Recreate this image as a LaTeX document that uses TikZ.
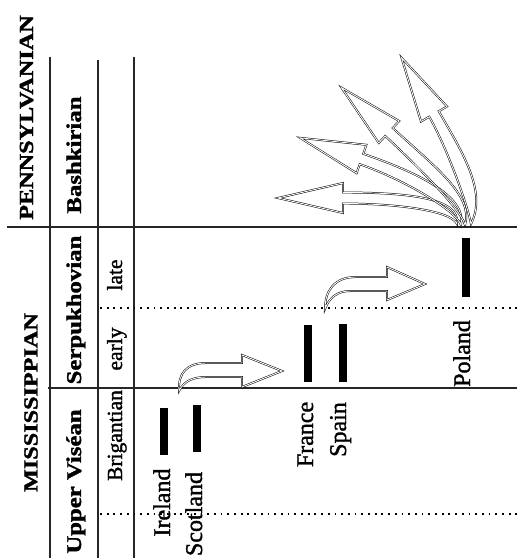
\documentclass[tikz,border=0pt]{standalone}
\usepackage{fontspec}
\setmainfont{Liberation Serif}[FakeBold=1.5]
\usepackage{graphicx}
\usetikzlibrary{calc}
% #1 name, #2 base x, #3 base y, #4 angle, #5 tail x, #6 tail y,
% #7 outer base ctrl, #8 outer tail ctrl offset, #9 inner tail ctrl offset
\newcommand\fanarr[9]{%
  \coordinate (#1b) at (#2,#3);
  \coordinate (#1t) at (#5,#6);
  \draw[hollow] (#1t) .. controls ($(#1t)+(#8)$) and ($(#1b)+({#4+90}:5.5)+({#4+180}:#7)$) ..
    ($(#1b)+({#4+90}:5.5)$) -- ($(#1b)+({#4+90}:15)$) -- ($(#1b)+(#4:65)$) --
    ($(#1b)+({#4-90}:15)$) -- ($(#1b)+({#4-90}:5.5)$) ..
    controls ($(#1b)+({#4-90}:5.5)+({#4+180}:#7-15)$) and ($(#1t)+(#9)$) .. (#1t) -- cycle;
}
\begin{document}
\begin{tikzpicture}[x=1pt,y=-1pt,
  rule/.style={line width=1.4pt, draw=black!85},
  dotline/.style={line width=1.8pt, dash pattern=on 1.8pt off 4.9pt},
  era/.style={rotate=90, anchor=base, inner sep=0pt, font=\fontsize{20}{24}\selectfont\bfseries},
  stage/.style={rotate=90, anchor=base, inner sep=0pt, font=\fontsize{21}{25}\selectfont\bfseries},
  sub/.style={rotate=90, anchor=base, inner sep=0pt, font=\fontsize{21.5}{25}\selectfont},
  place/.style={rotate=90, anchor=base, inner sep=0pt, font=\fontsize{24}{28}\selectfont},
  bar/.style={fill=black, draw=none},
  hollow/.style={draw=black, line width=0.5pt, double=white, double distance=0.9pt, line join=miter},
]
\useasboundingbox (0,0) rectangle (517,558);
% grid lines
\draw[rule] (50,57) -- (50,558);
\draw[rule] (98,60) -- (98,558);
\draw[rule] (134,57) -- (134,558);
\draw[rule] (7,227) -- (517,227);
\draw[rule] (48,388) -- (517,388);
% labels
\node[era] (penn) at (33,117.5) {\scalebox{1.21}[1]{PENNSYLVANIAN}};
\node[era] (miss) at (37.5,402.5) {\scalebox{1.21}[1]{MISSISSIPPIAN}};
\node[stage] (bash) at (81,155) {\scalebox{1.18}[1]{Bashkirian}};
\node[stage] (serp) at (81,310) {\scalebox{1.18}[1]{Serpukhovian}};
\node[stage] (vise) at (81,481.5) {\scalebox{1.18}[1]{Upper Viséan}};
\node[sub] (brig) at (122,435.5) {Brigantian};
\node[sub] (early) at (122,349) {early};
\node[sub] (late) at (122,275) {late};
\node[place] (ire) at (170,502.5) {Ireland};
\node[place] (sco) at (202,514) {Scotland};
\node[place] (fra) at (313,434.5) {France};
\node[place] (spa) at (346,429.5) {Spain};
\node[place] (pol) at (470,353.5) {Poland};
% dotted lines
\draw[dotline] (100,308) -- (517,308);
\draw[dotline] (100,514) -- (517,514);
% bars
\fill[bar] (160,408) rectangle (167.5,455);
\fill[bar] (193,405) rectangle (200.5,452);
\fill[bar] (304,325) rectangle (312,382);
\fill[bar] (339,324) rectangle (347,382);
\fill[bar] (462,238) rectangle (469.5,297);
% small arrows
\draw[hollow] (179,391) .. controls (178,374) and (186,363) .. (206,363) -- (242,363) -- (242,355) -- (282,371) -- (242,387) -- (242,377) -- (206,377) .. controls (193,377) and (184,381) .. (179,391) -- cycle;
\draw[hollow] (325,309) .. controls (325,291) and (334,277) .. (356,277) -- (387,277) -- (387,267) -- (425,284) -- (387,300) -- (387,291) -- (350,291) .. controls (337,291) and (329,298) .. (325,309) -- cycle;
% fan of arrows
\fanarr{fa}{343}{198}{180}{457}{224}{65}{4,-26}{-6,-14}
\fanarr{fb}{361.5}{159}{199}{461}{225}{60}{6,-28}{-5,-15}
\fanarr{fc}{389}{132}{223}{465}{225}{55}{9,-30}{-4,-16}
\fanarr{fd}{434}{114}{240}{471}{224}{50}{16,-32}{-3,-18}
\end{tikzpicture}
\end{document}
